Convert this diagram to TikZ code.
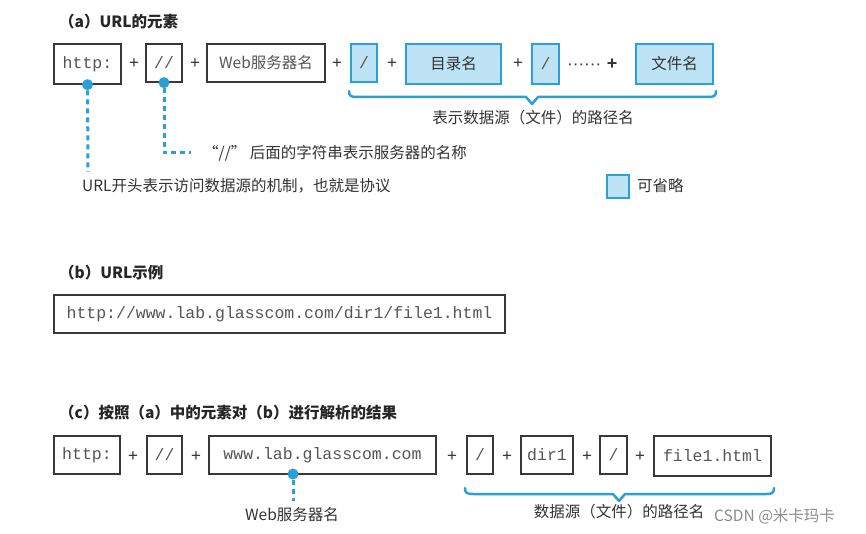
\documentclass[tikz,border=0pt]{standalone}
\usepackage{fontspec}
\setmainfont{Noto Sans CJK SC}
\setmonofont{Liberation Mono}
\newfontfamily\latinsf{Liberation Sans}
\definecolor{bluefill}{HTML}{BEE3F5}
\definecolor{blueline}{HTML}{2A9FD8}
\definecolor{txt}{HTML}{333333}
\definecolor{monotxt}{HTML}{555555}
\tikzset{
  box/.style={draw=black!78, line width=1.3pt, fill=white, inner sep=0pt, minimum height=38pt, text=monotxt},
  obox/.style={box, fill=bluefill, draw=blueline},
  mono/.style={font=\fontsize{16.5}{18}\ttfamily},
  cjkin/.style={font=\fontsize{15.5}{18}\selectfont},
  plus/.style={font=\fontsize{17}{17}\latinsf, text=txt, inner sep=0pt},
  lbl/.style={font=\fontsize{15.5}{18}\selectfont, text=txt, inner sep=0pt},
  ttl/.style={font=\fontsize{15.5}{18}\selectfont\bfseries, text=black!85, inner sep=0pt, anchor=west},
  bdot/.style={circle, fill=blueline, inner sep=0pt, minimum size=11pt},
  dashline/.style={draw=blueline, line width=3pt, dash pattern=on 5pt off 4pt},
  bracepath/.style={draw=blueline, line width=2.5pt, line cap=round, line join=round},
}
\begin{document}
\begin{tikzpicture}[x=1pt,y=-1pt]
\useasboundingbox[fill=white] (0,0) rectangle (866,534);

% ---------- (a) ----------
\node[ttl] (ta) at (59,22) {（a）URL的元素};
\node[box, mono, minimum width=67pt, minimum height=40pt] (ahttp) at (87.5,64) {http:};
\node[plus] (ap1) at (134,64) {+};
\node[box, mono, minimum width=36pt] (aslash) at (164,63) {//};
\node[plus] (ap2) at (195,64) {+};
\node[box, cjkin, minimum width=118pt] (aweb) at (266,63) {Web服务器名};
\node[plus] (ap3) at (337,64) {+};
\node[obox, mono, minimum width=26pt] (as1) at (364,63) {/};
\node[plus] (ap4) at (392,64) {+};
\node[obox, cjkin, text=txt, minimum width=95pt, minimum height=40pt] (adir) at (453.5,64) {目录名};
\node[plus] (ap5) at (518,64) {+};
\node[obox, mono, minimum width=27pt, minimum height=40pt] (as2) at (545.5,64) {/};
\node[plus, anchor=west, font=\fontsize{17}{17}\latinsf] (adots) at (567,67) {······};
\node[plus, font=\fontsize{18}{18}\latinsf\bfseries] (ap6) at (612,64) {+};
\node[obox, cjkin, text=txt, minimum width=77pt, minimum height=40pt] (afile) at (674.5,64) {文件名};

% brace (a)
\draw[bracepath] (349,91) .. controls (349,96) and (351,97) .. (357,97) -- (526,97) -- (532,104) -- (538,97) -- (708,97) .. controls (714,97) and (716,96) .. (716,91);
\node[lbl] (apath) at (533,118) {表示数据源（文件）的路径名};

% callouts (a)
\node[bdot] (d1) at (ahttp.south) {};
\coordinate (c1) at (88,172);
\draw[dashline] (d1) -- (c1);
\node[lbl, anchor=west] (tproto) at (82,186) {URL开头表示访问数据源的机制，也就是协议};

\node[bdot] (d2) at (aslash.south) {};
\coordinate (c2) at (164,153);
\coordinate (c2b) at (191,153);
\draw[dashline] (d2) -- (c2) -- (c2b);
\node[lbl, anchor=west] (tsrv) at (203,153) {“//” 后面的字符串表示服务器的名称};

% legend
\node[obox, minimum width=22pt, minimum height=23pt] (leg) at (618,186.5) {};
\node[lbl, anchor=west] (legt) at (637,186) {可省略};

% ---------- (b) ----------
\node[ttl] (tb) at (59,273) {（b）URL示例};
\node[box, mono, minimum width=451pt, minimum height=38pt] (burl) at (279.5,314) {http://www.lab.glasscom.com/dir1/file1.html};

% ---------- (c) ----------
\node[ttl] (tc) at (59,413) {（c）按照（a）中的元素对（b）进行解析的结果};
\node[box, mono, minimum width=66pt] (chttp) at (87,455) {http:};
\node[plus] (cp1) at (133,457) {+};
\node[box, mono, minimum width=35pt] (cslash) at (164.5,455) {//};
\node[plus] (cp2) at (196,457) {+};
\node[box, mono, minimum width=227pt] (cwww) at (322.5,455) {www.lab.glasscom.com};
\node[plus] (cp3) at (452,457) {+};
\node[box, mono, minimum width=26pt] (cs1) at (480,455) {/};
\node[plus] (cp4) at (507,457) {+};
\node[box, mono, minimum width=52pt] (cdir) at (547,455) {dir1};
\node[plus] (cp5) at (587,457) {+};
\node[box, mono, minimum width=27pt] (cs2) at (613.5,455) {/};
\node[plus] (cp6) at (640,457) {+};
\node[box, mono, minimum width=117pt, minimum height=40pt] (cfile) at (712.5,456) {file1.html};

% callout (c)
\node[bdot] (d3) at (293,474) {};
\coordinate (c3) at (293,501);
\draw[dashline] (d3) -- (c3);
\node[lbl] (tweb) at (292,515) {Web服务器名};

% brace (c)
\draw[bracepath] (465,488) .. controls (465,493) and (467,494) .. (473,494) -- (613,494) -- (619,501) -- (625,494) -- (766,494) .. controls (772,494) and (774,493) .. (774,488);
\node[lbl] (cpath) at (619,512) {数据源（文件）的路径名};

% watermark
\node[lbl, text=black!45, anchor=west] (wm) at (714,516) {CSDN @米卡玛卡};
\end{tikzpicture}
\end{document}
